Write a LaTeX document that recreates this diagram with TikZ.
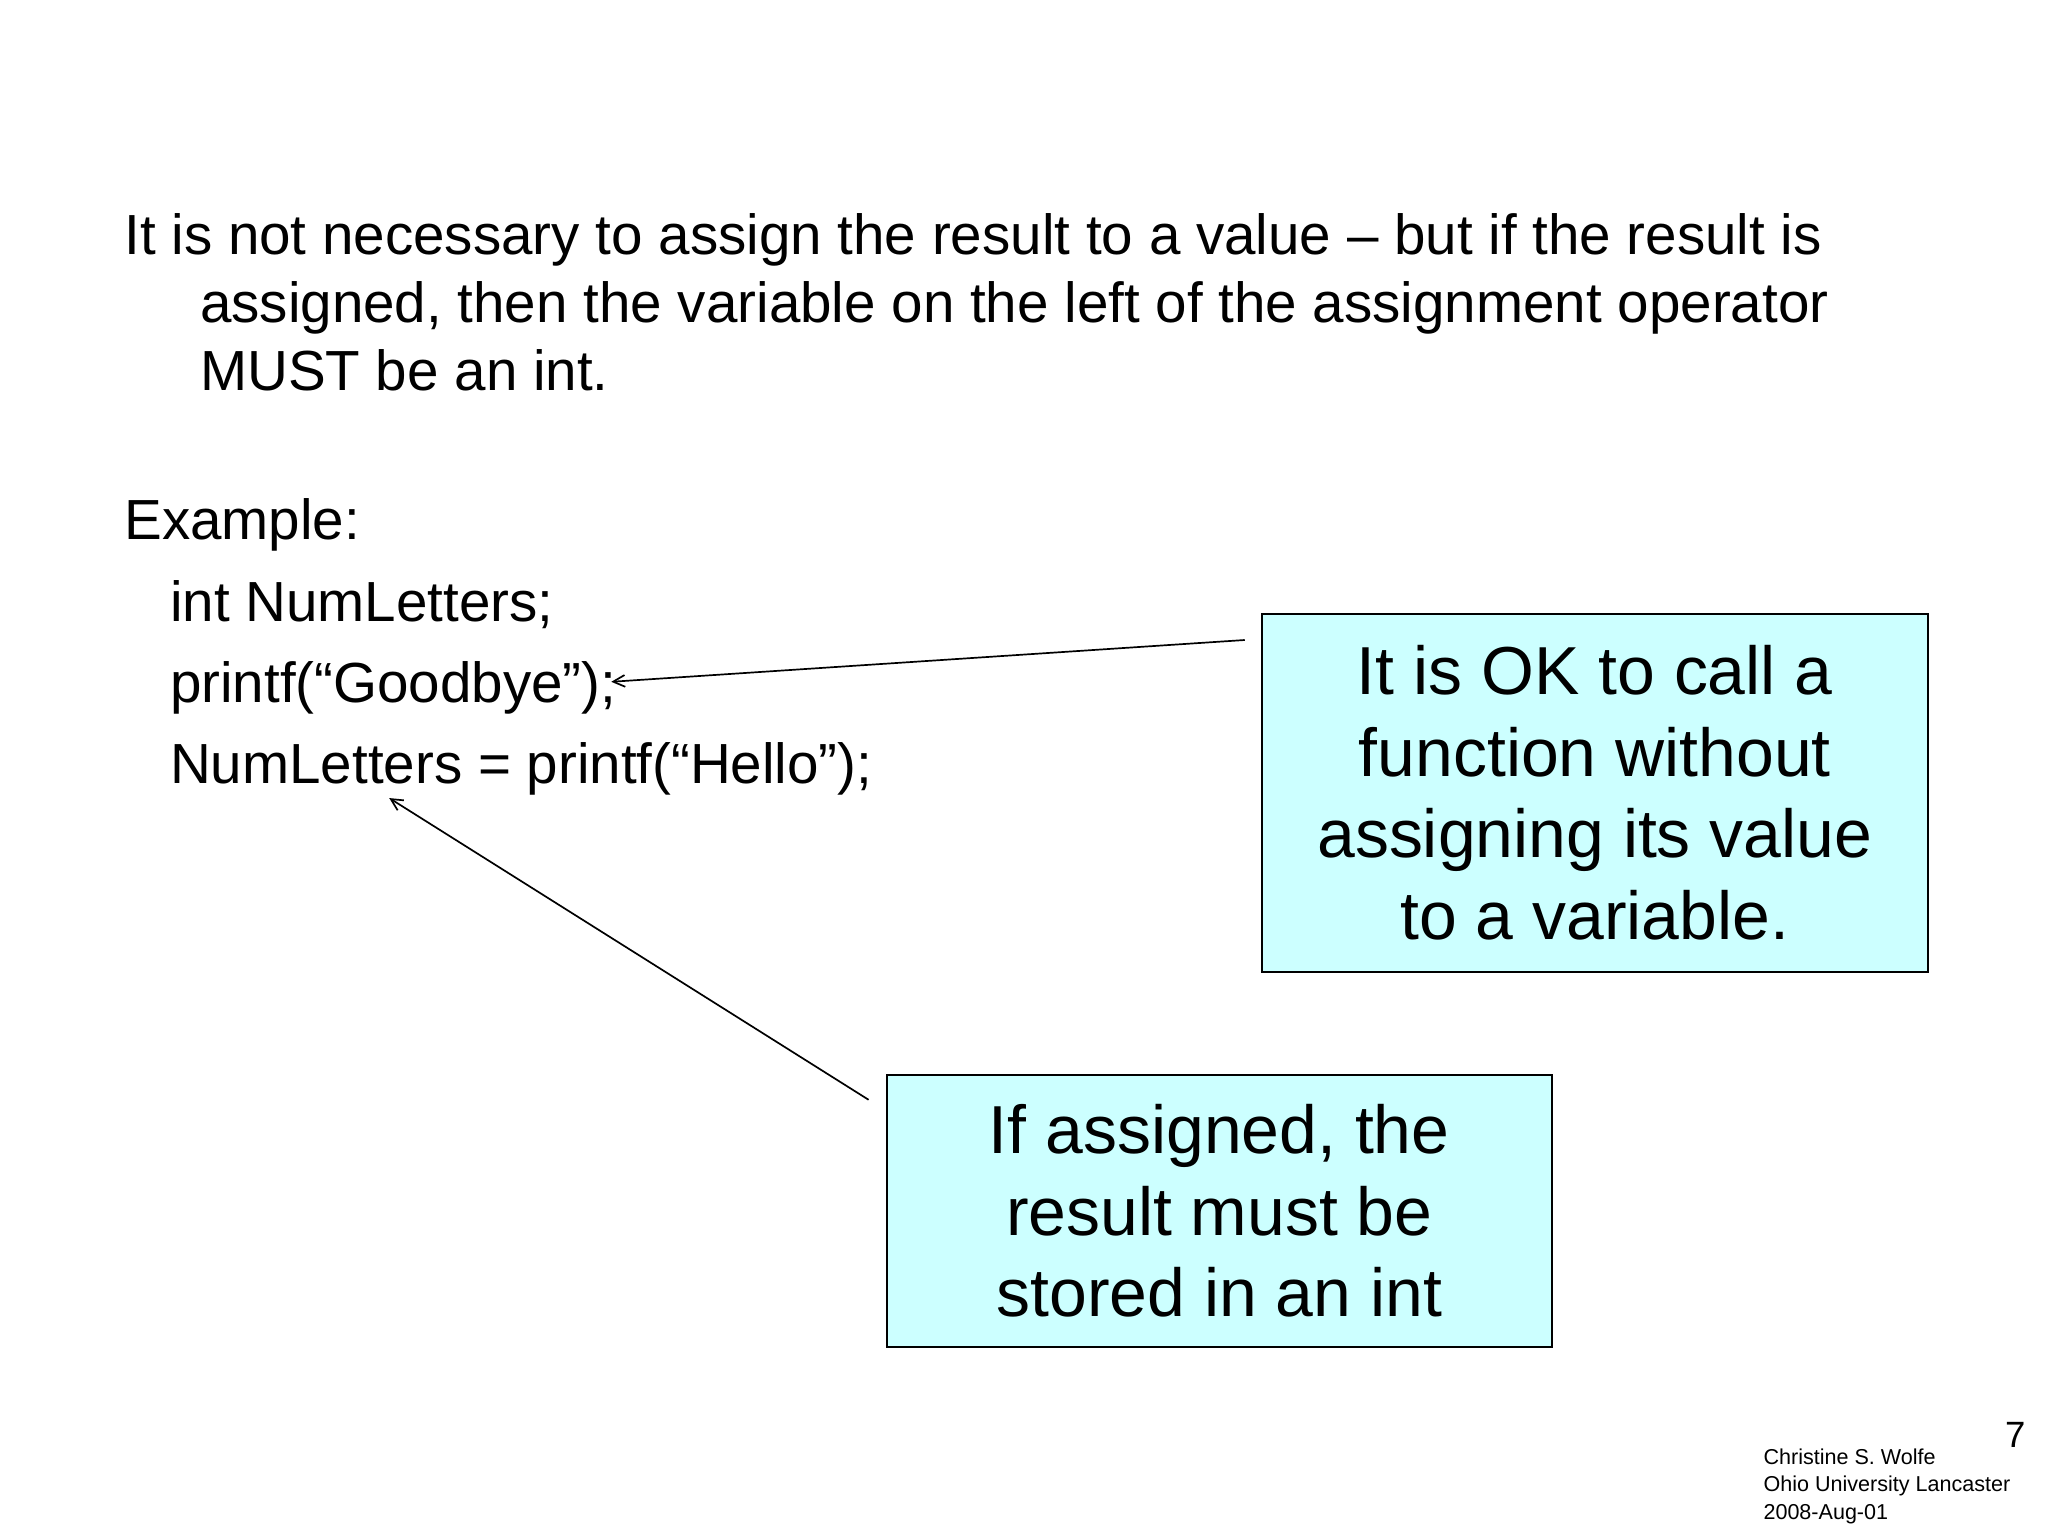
\documentclass[tikz,border=0pt]{standalone}
\usepackage{fontspec}
\setmainfont{Liberation Sans}
\usetikzlibrary{arrows.meta}
\definecolor{boxcyan}{RGB}{204,255,255}
\begin{document}
\begin{tikzpicture}[x=1pt,y=-1pt,
  body/.style={anchor=base west,inner sep=0pt,font=\fontsize{43.3}{50}\selectfont},
  callout/.style={draw=black,line width=1.5pt,fill=boxcyan,align=center,inner sep=0pt,font=\fontsize{52}{62.5}\selectfont},
  pointer/.style={line width=1.3pt,-{Straight Barb[length=9pt,width=9pt]}},
  foot/.style={anchor=base west,inner sep=0pt,font=\fontsize{16.5}{20}\selectfont}]
\useasboundingbox (0,0) rectangle (1568,1176);
\node[body] (l1) at (95,195) {It is not necessary to assign the result to a value -- but if the result is};
\node[body] (l2) at (153,247) {assigned, then the variable on the left of the assignment operator};
\node[body] (l3) at (153,299) {MUST be an int.};
\node[body] (ex) at (95,413) {Example:};
\node[body] (c1) at (130,476) {int NumLetters;};
\node[body] (c2) at (130,538) {printf(“Goodbye”);};
\node[body] (c3) at (130,600) {NumLetters = printf(“Hello”);};
\node[callout,minimum width=510pt,minimum height=274pt] (b1) at (1221,607) {It is OK to call a\\function without\\assigning its value\\to a variable.};
\node[callout,minimum width=509pt,minimum height=208pt] (b2) at (933.5,927) {If assigned, the\\result must be\\stored in an int};
\coordinate (s1) at (953,490);
\coordinate (e1) at (468,522);
\coordinate (s2) at (665,842);
\coordinate (e2) at (298,611);
\draw[pointer] (s1) -- (e1);
\draw[pointer] (s2) -- (e2);
\node[anchor=base east,inner sep=0pt,font=\fontsize{28}{30}\selectfont] (pg) at (1551,1108) {7};
\node[foot] (f1) at (1350,1121) {Christine S. Wolfe};
\node[foot] (f2) at (1350,1142) {Ohio University Lancaster};
\node[foot] (f3) at (1350,1163) {2008-Aug-01};
\end{tikzpicture}
\end{document}
